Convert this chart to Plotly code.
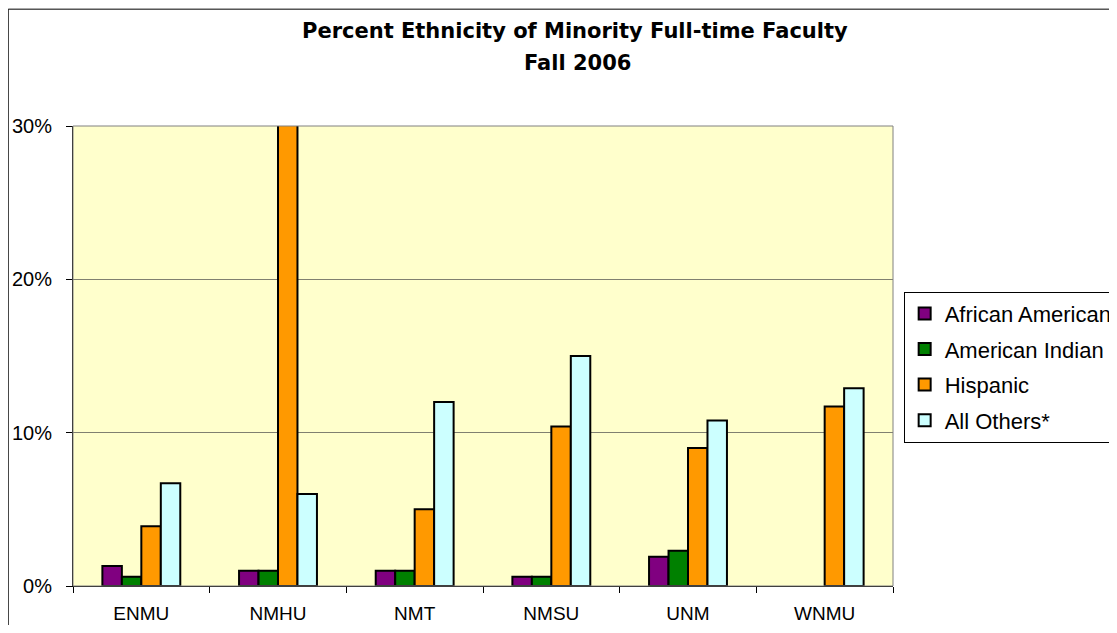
import plotly.graph_objects as go

schools = ["ENMU", "NMHU", "NMT", "NMSU", "UNM", "WNMU"]
african_american = [1.3, 1.0, 1.0, 0.6, 1.9, None]
american_indian = [0.6, 1.0, 1.0, 0.6, 2.3, None]
hispanic = [3.9, 31.0, 5.0, 10.4, 9.0, 11.7]
all_others = [6.7, 6.0, 12.0, 15.0, 10.8, 12.9]

series = [
    ("African American", african_american, "#800080"),
    ("American Indian", american_indian, "#008000"),
    ("Hispanic", hispanic, "#FF9900"),
    ("All Others*", all_others, "#CCFFFF"),
]

FONT = "Liberation Sans, Arial, sans-serif"
TITLE_FONT = "DejaVu Sans, Liberation Sans, sans-serif"

fig = go.Figure()
for name, vals, color in series:
    fig.add_trace(
        go.Bar(
            name=name,
            x=schools,
            y=[v / 100 if v is not None else None for v in vals],
            marker=dict(color=color, line=dict(color="#000", width=2)),
            legendgroup=name,
        )
    )

# outer chart frame
fig.add_shape(
    type="rect", xref="paper", yref="paper",
    x0=-0.079, x1=1.4, y0=-0.3, y1=1.254,
    line=dict(color="#000", width=1), layer="below",
)
# grey border around plot area
fig.add_shape(
    type="rect", xref="paper", yref="paper",
    x0=0, x1=1, y0=0, y1=1,
    line=dict(color="#808080", width=1),
)

# two-line title
fig.add_annotation(
    text="<b>Percent Ethnicity of Minority Full-time Faculty</b>",
    xref="paper", yref="paper", x=0.612, y=1.207,
    xanchor="center", yanchor="middle", showarrow=False,
    font=dict(family=TITLE_FONT, size=21, color="#000"),
)
fig.add_annotation(
    text="<b>Fall 2006</b>",
    xref="paper", yref="paper", x=0.615, y=1.137,
    xanchor="center", yanchor="middle", showarrow=False,
    font=dict(family=TITLE_FONT, size=21, color="#000"),
)

fig.update_xaxes(
    tickson="boundaries",
    ticks="outside",
    ticklen=6,
    tickcolor="#000",
    showline=True,
    linecolor="#000",
    tickfont=dict(family=FONT, size=19, color="#000"),
    ticklabelstandoff=10,
)
fig.update_yaxes(
    range=[0, 0.3],
    tickvals=[0, 0.1, 0.2, 0.3],
    tickformat=".0%",
    ticks="outside",
    ticklen=6,
    tickcolor="#000",
    showline=True,
    linecolor="#000",
    showgrid=True,
    gridcolor="#808070",
    gridwidth=1,
    zeroline=False,
    tickfont=dict(family=FONT, size=20, color="#000"),
    ticklabelstandoff=10,
)

fig.update_layout(
    width=1109,
    height=617,
    margin=dict(l=65, r=224, t=118, b=39, autoexpand=False),
    paper_bgcolor="#fff",
    plot_bgcolor="#FFFFCC",
    barmode="group",
    bargap=0.43,
    bargroupgap=0,
    legend=dict(
        x=1.013,
        y=0.64,
        xanchor="left",
        yanchor="top",
        bordercolor="#000",
        borderwidth=1,
        bgcolor="#fff",
        font=dict(family=FONT, size=22, color="#000"),
        tracegroupgap=4,
        itemwidth=30,
    ),
    showlegend=True,
    font=dict(family=FONT, size=16),
)

fig.write_html("out.html")
